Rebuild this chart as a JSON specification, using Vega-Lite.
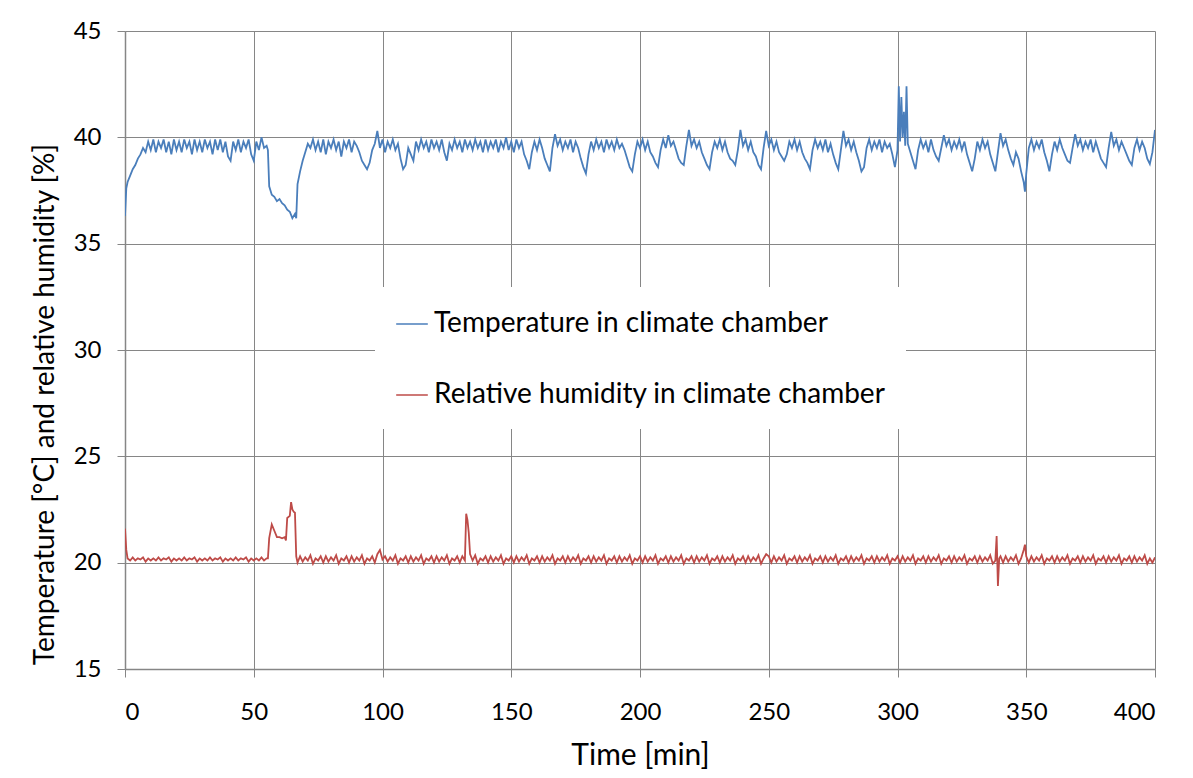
{
  "$schema": "https://vega.github.io/schema/vega-lite/v6.json",
  "width": 1030,
  "height": 638,
  "autosize": {"type": "none"},
  "padding": {"left": 125, "top": 31, "right": 38, "bottom": 109},
  "background": "white",
  "data": {"values": [
{"t":0,"T":36.3,"H":21.6},{"t":0.5,"T":37.6,"H":20.6},{"t":1,"T":37.9,"H":20.2},{"t":2,"T":38.2,"H":20.1},{"t":3,"T":38.5,"H":20.25},{"t":4,"T":38.7,"H":20.1},{"t":5,"T":39.0,"H":20.2},{"t":6,"T":39.2,"H":20.15},{"t":7,"T":39.5,"H":20.25},{"t":8,"T":39.3,"H":20.05},{"t":9,"T":39.8,"H":20.2},
{"t":10,"T":39.4,"H":20.1},{"t":11,"T":39.9,"H":20.2},{"t":12,"T":39.3,"H":20.1},{"t":13,"T":39.8,"H":20.25},{"t":14,"T":39.5,"H":20.1},{"t":15,"T":39.9,"H":20.2},{"t":16,"T":39.3,"H":20.15},{"t":17,"T":39.8,"H":20.25},{"t":18,"T":39.2,"H":20.05},{"t":19,"T":39.9,"H":20.2},
{"t":20,"T":39.4,"H":20.1},{"t":21,"T":39.8,"H":20.2},{"t":22,"T":39.3,"H":20.1},{"t":23,"T":39.9,"H":20.25},{"t":24,"T":39.5,"H":20.1},{"t":25,"T":39.8,"H":20.2},{"t":26,"T":39.2,"H":20.15},{"t":27,"T":39.9,"H":20.25},{"t":28,"T":39.4,"H":20.05},{"t":29,"T":39.8,"H":20.2},
{"t":30,"T":39.3,"H":20.1},{"t":31,"T":39.9,"H":20.2},{"t":32,"T":39.5,"H":20.1},{"t":33,"T":39.8,"H":20.25},{"t":34,"T":39.2,"H":20.1},{"t":35,"T":39.9,"H":20.2},{"t":36,"T":39.4,"H":20.15},{"t":37,"T":39.9,"H":20.25},{"t":38,"T":39.3,"H":20.05},{"t":39,"T":39.8,"H":20.2},
{"t":40,"T":39.1,"H":20.1},{"t":41,"T":38.9,"H":20.2},{"t":42,"T":39.8,"H":20.1},{"t":43,"T":39.4,"H":20.25},{"t":44,"T":39.9,"H":20.1},{"t":45,"T":39.3,"H":20.2},{"t":46,"T":39.8,"H":20.15},{"t":47,"T":39.5,"H":20.25},{"t":48,"T":39.9,"H":20.05},{"t":49,"T":39.2,"H":20.2},
{"t":50,"T":38.9,"H":20.1},{"t":51,"T":39.8,"H":20.2},{"t":52,"T":39.4,"H":20.1},{"t":53,"T":40.0,"H":20.25},{"t":54,"T":39.5,"H":20.1},{"t":55,"T":39.6,"H":20.2},{"t":55.5,"T":39.4,"H":20.2},{"t":56,"T":37.7,"H":21.15},{"t":57,"T":37.3,"H":21.8},{"t":58,"T":37.2,"H":21.5},{"t":59,"T":37.0,"H":21.2},
{"t":60,"T":37.1,"H":21.2},{"t":61,"T":36.9,"H":21.15},{"t":62,"T":36.8,"H":21.2},{"t":62.5,"H":21.05},{"t":63,"T":36.6,"H":22.1},{"t":64,"T":36.5,"H":22.2},{"t":64.5,"H":22.85},{"t":65,"T":36.2,"H":22.5},{"t":65.5,"H":22.4},{"t":66,"T":36.4,"H":22.35},{"t":66.5,"T":36.2,"H":20.3},{"t":67,"T":37.8,"H":20.0},{"t":68,"T":38.4,"H":20.3},{"t":69,"T":38.9,"H":20.05},
{"t":70,"T":39.3,"H":20.25},{"t":71,"T":39.7,"H":20.1},{"t":72,"T":39.5,"H":20.35},{"t":73,"T":39.9,"H":19.95},{"t":74,"T":39.4,"H":20.2},{"t":75,"T":39.8,"H":20.1},{"t":76,"T":39.3,"H":20.3},{"t":77,"T":39.9,"H":20.0},{"t":78,"T":39.2,"H":20.3},{"t":79,"T":39.8,"H":20.05},
{"t":80,"T":39.5,"H":20.25},{"t":81,"T":39.9,"H":20.1},{"t":82,"T":39.4,"H":20.35},{"t":83,"T":39.8,"H":19.95},{"t":84,"T":39.1,"H":20.2},{"t":85,"T":39.8,"H":20.1},{"t":86,"T":39.5,"H":20.3},{"t":87,"T":39.9,"H":20.0},{"t":88,"T":39.3,"H":20.3},{"t":89,"T":39.8,"H":20.05},
{"t":90,"T":39.6,"H":20.25},{"t":91,"T":39.3,"H":20.1},{"t":92,"T":38.9,"H":20.35},{"t":93,"T":38.7,"H":19.95},{"t":94,"T":38.5,"H":20.2},{"t":95,"T":38.8,"H":20.1},{"t":96,"T":39.4,"H":20.3},{"t":97,"T":39.7,"H":20.0},{"t":98,"T":40.3,"H":20.4},{"t":99,"T":39.5,"H":20.6},
{"t":100,"T":39.9,"H":20.15},{"t":101,"T":39.3,"H":20.3},{"t":102,"T":39.8,"H":20.05},{"t":103,"T":39.5,"H":20.25},{"t":104,"T":39.9,"H":20.1},{"t":105,"T":39.4,"H":20.35},{"t":106,"T":39.7,"H":19.95},{"t":107,"T":39.0,"H":20.2},{"t":108,"T":38.5,"H":20.1},{"t":109,"T":38.7,"H":20.3},
{"t":110,"T":39.5,"H":20.0},{"t":111,"T":39.2,"H":20.3},{"t":112,"T":38.9,"H":20.05},{"t":113,"T":39.8,"H":20.25},{"t":114,"T":39.4,"H":20.1},{"t":115,"T":39.9,"H":20.35},{"t":116,"T":39.5,"H":19.95},{"t":117,"T":39.8,"H":20.2},{"t":118,"T":39.3,"H":20.1},{"t":119,"T":39.9,"H":20.3},
{"t":120,"T":39.5,"H":20.0},{"t":121,"T":39.8,"H":20.3},{"t":122,"T":39.4,"H":20.05},{"t":123,"T":39.9,"H":20.25},{"t":124,"T":39.3,"H":20.1},{"t":125,"T":38.9,"H":20.35},{"t":126,"T":39.7,"H":19.95},{"t":127,"T":39.4,"H":20.2},{"t":128,"T":39.9,"H":20.1},{"t":129,"T":39.5,"H":20.3},
{"t":130,"T":39.8,"H":20.0},{"t":131,"T":39.3,"H":20.3},{"t":132,"T":39.9,"H":20.1},{"t":132.5,"H":22.3},{"t":133,"T":39.5,"H":22.0},{"t":133.5,"H":21.4},{"t":134,"T":39.8,"H":20.4},{"t":135,"T":39.4,"H":20.1},{"t":136,"T":39.9,"H":20.35},{"t":137,"T":39.5,"H":19.95},{"t":138,"T":39.8,"H":20.2},{"t":139,"T":39.3,"H":20.1},
{"t":140,"T":39.9,"H":20.3},{"t":141,"T":39.4,"H":20.0},{"t":142,"T":39.8,"H":20.3},{"t":143,"T":39.5,"H":20.05},{"t":144,"T":39.9,"H":20.25},{"t":145,"T":39.3,"H":20.1},{"t":146,"T":39.8,"H":20.35},{"t":147,"T":39.5,"H":19.95},{"t":148,"T":40.0,"H":20.2},{"t":149,"T":39.4,"H":20.1},
{"t":150,"T":39.8,"H":20.3},{"t":151,"T":39.3,"H":20.0},{"t":152,"T":39.9,"H":20.3},{"t":153,"T":39.5,"H":20.05},{"t":154,"T":39.8,"H":20.25},{"t":155,"T":39.2,"H":20.1},{"t":156,"T":38.9,"H":20.35},{"t":157,"T":38.5,"H":19.95},{"t":158,"T":39.3,"H":20.2},{"t":159,"T":39.8,"H":20.1},
{"t":160,"T":39.4,"H":20.3},{"t":161,"T":39.9,"H":20.0},{"t":162,"T":39.5,"H":20.3},{"t":163,"T":39.0,"H":20.05},{"t":164,"T":38.7,"H":20.25},{"t":165,"T":38.4,"H":20.1},{"t":166,"T":39.5,"H":20.35},{"t":167,"T":40.15,"H":19.95},{"t":168,"T":39.6,"H":20.2},{"t":169,"T":39.9,"H":20.1},
{"t":170,"T":39.4,"H":20.3},{"t":171,"T":39.8,"H":20.0},{"t":172,"T":39.5,"H":20.3},{"t":173,"T":39.9,"H":20.05},{"t":174,"T":39.3,"H":20.25},{"t":175,"T":39.8,"H":20.1},{"t":176,"T":39.5,"H":20.35},{"t":177,"T":39.0,"H":19.95},{"t":178,"T":38.6,"H":20.2},{"t":179,"T":38.3,"H":20.1},
{"t":180,"T":39.2,"H":20.3},{"t":181,"T":39.8,"H":20.0},{"t":182,"T":39.4,"H":20.3},{"t":183,"T":39.9,"H":20.05},{"t":184,"T":39.5,"H":20.25},{"t":185,"T":39.8,"H":20.1},{"t":186,"T":39.3,"H":20.35},{"t":187,"T":39.9,"H":19.95},{"t":188,"T":39.5,"H":20.2},{"t":189,"T":39.8,"H":20.1},
{"t":190,"T":39.4,"H":20.3},{"t":191,"T":39.9,"H":20.0},{"t":192,"T":39.5,"H":20.3},{"t":193,"T":39.7,"H":20.05},{"t":194,"T":39.4,"H":20.25},{"t":195,"T":39.0,"H":20.1},{"t":196,"T":38.6,"H":20.35},{"t":197,"T":38.4,"H":19.95},{"t":198,"T":39.2,"H":20.2},{"t":199,"T":39.8,"H":20.1},
{"t":200,"T":39.5,"H":20.3},{"t":201,"T":39.9,"H":20.0},{"t":202,"T":39.4,"H":20.3},{"t":203,"T":39.8,"H":20.05},{"t":204,"T":39.3,"H":20.25},{"t":205,"T":39.1,"H":20.1},{"t":206,"T":38.8,"H":20.35},{"t":207,"T":38.6,"H":19.95},{"t":208,"T":39.4,"H":20.2},{"t":209,"T":39.9,"H":20.1},
{"t":210,"T":39.5,"H":20.3},{"t":211,"T":40.1,"H":20.0},{"t":212,"T":39.6,"H":20.3},{"t":213,"T":39.8,"H":20.05},{"t":214,"T":39.4,"H":20.25},{"t":215,"T":39.0,"H":20.1},{"t":216,"T":38.8,"H":20.35},{"t":217,"T":38.7,"H":19.95},{"t":218,"T":39.6,"H":20.2},{"t":219,"T":40.35,"H":20.1},
{"t":220,"T":39.6,"H":20.3},{"t":221,"T":39.9,"H":20.0},{"t":222,"T":39.5,"H":20.3},{"t":223,"T":39.8,"H":20.05},{"t":224,"T":39.3,"H":20.25},{"t":225,"T":39.0,"H":20.1},{"t":226,"T":38.7,"H":20.35},{"t":227,"T":38.5,"H":19.95},{"t":228,"T":39.3,"H":20.2},{"t":229,"T":39.8,"H":20.1},
{"t":230,"T":39.5,"H":20.3},{"t":231,"T":39.9,"H":20.0},{"t":232,"T":39.4,"H":20.3},{"t":233,"T":39.8,"H":20.05},{"t":234,"T":39.3,"H":20.25},{"t":235,"T":39.0,"H":20.1},{"t":236,"T":38.9,"H":20.35},{"t":237,"T":38.7,"H":19.95},{"t":238,"T":39.4,"H":20.2},{"t":239,"T":40.35,"H":20.1},
{"t":240,"T":39.6,"H":20.3},{"t":241,"T":39.9,"H":20.0},{"t":242,"T":39.4,"H":20.3},{"t":243,"T":39.8,"H":20.05},{"t":244,"T":39.3,"H":20.25},{"t":245,"T":39.1,"H":20.1},{"t":246,"T":38.7,"H":20.35},{"t":247,"T":38.5,"H":19.95},{"t":248,"T":39.5,"H":20.2},{"t":249,"T":40.3,"H":20.4},
{"t":250,"T":39.6,"H":20.3},{"t":251,"T":39.9,"H":20.0},{"t":252,"T":39.4,"H":20.3},{"t":253,"T":39.8,"H":20.05},{"t":254,"T":39.3,"H":20.25},{"t":255,"T":39.1,"H":20.1},{"t":256,"T":38.9,"H":20.35},{"t":257,"T":39.2,"H":19.95},{"t":258,"T":39.8,"H":20.2},{"t":259,"T":39.5,"H":20.1},
{"t":260,"T":39.9,"H":20.3},{"t":261,"T":39.4,"H":20.0},{"t":262,"T":39.8,"H":20.3},{"t":263,"T":39.3,"H":20.05},{"t":264,"T":39.0,"H":20.25},{"t":265,"T":38.8,"H":20.1},{"t":266,"T":38.5,"H":20.35},{"t":267,"T":39.4,"H":19.95},{"t":268,"T":39.9,"H":20.2},{"t":269,"T":39.5,"H":20.1},
{"t":270,"T":39.8,"H":20.3},{"t":271,"T":39.4,"H":20.0},{"t":272,"T":39.9,"H":20.3},{"t":273,"T":39.3,"H":20.05},{"t":274,"T":39.7,"H":20.25},{"t":275,"T":39.2,"H":20.1},{"t":276,"T":38.8,"H":20.35},{"t":277,"T":38.5,"H":19.95},{"t":278,"T":39.4,"H":20.2},{"t":279,"T":40.3,"H":20.1},
{"t":280,"T":39.6,"H":20.3},{"t":281,"T":39.9,"H":20.0},{"t":282,"T":39.4,"H":20.3},{"t":283,"T":39.8,"H":20.05},{"t":284,"T":39.3,"H":20.25},{"t":285,"T":38.9,"H":20.1},{"t":286,"T":38.4,"H":20.35},{"t":287,"T":38.6,"H":19.95},{"t":288,"T":39.5,"H":20.2},{"t":289,"T":39.9,"H":20.1},
{"t":290,"T":39.4,"H":20.3},{"t":291,"T":39.8,"H":20.0},{"t":292,"T":39.5,"H":20.3},{"t":293,"T":39.9,"H":20.05},{"t":294,"T":39.3,"H":20.25},{"t":295,"T":39.8,"H":20.1},{"t":296,"T":39.5,"H":20.35},{"t":297,"T":39.7,"H":19.95},{"t":298,"T":39.2,"H":20.2},{"t":299,"T":38.6,"H":20.1},
{"t":300,"T":39.4,"H":20.3},{"t":300.5,"T":42.4},{"t":301,"T":39.8,"H":20.0},{"t":301.5,"T":41.9},{"t":302,"T":40.0,"H":20.3},{"t":302.5,"T":41.2},{"t":303,"T":39.6,"H":20.05},{"t":303.5,"T":42.4},{"t":304,"T":39.7,"H":20.25},{"t":305,"T":39.3,"H":20.1},{"t":306,"T":38.9,"H":20.35},{"t":307,"T":38.5,"H":19.95},{"t":308,"T":39.4,"H":20.2},{"t":309,"T":39.9,"H":20.1},
{"t":310,"T":39.5,"H":20.3},{"t":311,"T":39.8,"H":20.0},{"t":312,"T":39.3,"H":20.3},{"t":313,"T":39.9,"H":20.05},{"t":314,"T":39.4,"H":20.25},{"t":315,"T":39.1,"H":20.1},{"t":316,"T":38.9,"H":20.35},{"t":317,"T":39.5,"H":19.95},{"t":318,"T":40.1,"H":20.2},{"t":319,"T":39.6,"H":20.1},
{"t":320,"T":39.9,"H":20.3},{"t":321,"T":39.4,"H":20.0},{"t":322,"T":39.8,"H":20.3},{"t":323,"T":39.5,"H":20.05},{"t":324,"T":39.9,"H":20.25},{"t":325,"T":39.4,"H":20.1},{"t":326,"T":39.8,"H":20.35},{"t":327,"T":39.2,"H":19.95},{"t":328,"T":38.8,"H":20.2},{"t":329,"T":38.4,"H":20.1},
{"t":330,"T":39.0,"H":20.3},{"t":331,"T":39.8,"H":20.0},{"t":332,"T":39.4,"H":20.3},{"t":333,"T":39.9,"H":20.05},{"t":334,"T":39.5,"H":20.25},{"t":335,"T":39.8,"H":20.1},{"t":336,"T":39.2,"H":20.35},{"t":337,"T":38.8,"H":19.95},{"t":338,"T":38.4,"H":20.1},{"t":338.5,"H":21.25},{"t":339,"T":39.3,"H":18.9},{"t":339.5,"H":20.2},
{"t":340,"T":40.2,"H":20.3},{"t":341,"T":39.6,"H":20.0},{"t":342,"T":39.9,"H":20.3},{"t":343,"T":39.4,"H":20.05},{"t":344,"T":39.0,"H":20.25},{"t":345,"T":38.7,"H":20.1},{"t":346,"T":39.3,"H":20.35},{"t":347,"T":39.0,"H":19.95},{"t":348,"T":38.4,"H":20.2},{"t":349,"T":37.9,"H":20.6},{"t":349.5,"T":37.45,"H":20.85},
{"t":350,"T":38.3,"H":20.3},{"t":351,"T":39.5,"H":20.0},{"t":352,"T":39.9,"H":20.3},{"t":353,"T":39.4,"H":20.05},{"t":354,"T":39.8,"H":20.25},{"t":355,"T":39.5,"H":20.1},{"t":356,"T":39.9,"H":20.35},{"t":357,"T":39.3,"H":19.95},{"t":358,"T":38.9,"H":20.2},{"t":359,"T":38.4,"H":20.1},
{"t":360,"T":39.2,"H":20.3},{"t":361,"T":39.8,"H":20.0},{"t":362,"T":39.4,"H":20.3},{"t":363,"T":39.9,"H":20.05},{"t":364,"T":39.5,"H":20.25},{"t":365,"T":39.2,"H":20.1},{"t":366,"T":38.9,"H":20.35},{"t":367,"T":38.8,"H":19.95},{"t":368,"T":39.5,"H":20.2},{"t":369,"T":40.15,"H":20.1},
{"t":370,"T":39.6,"H":20.3},{"t":371,"T":39.9,"H":20.0},{"t":372,"T":39.4,"H":20.3},{"t":373,"T":39.8,"H":20.05},{"t":374,"T":39.5,"H":20.25},{"t":375,"T":39.9,"H":20.1},{"t":376,"T":39.3,"H":20.35},{"t":377,"T":39.8,"H":19.95},{"t":378,"T":39.4,"H":20.2},{"t":379,"T":39.0,"H":20.1},
{"t":380,"T":38.8,"H":20.3},{"t":381,"T":38.6,"H":20.0},{"t":382,"T":39.5,"H":20.3},{"t":383,"T":40.25,"H":20.05},{"t":384,"T":39.6,"H":20.25},{"t":385,"T":39.9,"H":20.1},{"t":386,"T":39.4,"H":20.35},{"t":387,"T":39.8,"H":19.95},{"t":388,"T":39.5,"H":20.2},{"t":389,"T":39.2,"H":20.1},
{"t":390,"T":38.9,"H":20.3},{"t":391,"T":38.7,"H":20.0},{"t":392,"T":39.5,"H":20.3},{"t":393,"T":39.9,"H":20.05},{"t":394,"T":39.4,"H":20.25},{"t":395,"T":39.8,"H":20.1},{"t":396,"T":39.5,"H":20.35},{"t":397,"T":39.0,"H":19.95},{"t":398,"T":38.75,"H":20.2},{"t":399,"T":39.3,"H":20.0},
{"t":400,"T":40.35,"H":20.25}
  ]},
  "transform": [
    {"fold": ["T", "H"], "as": ["series", "value"]},
    {"filter": "isValid(datum.value)"}
  ],
  "mark": {"type": "line", "strokeWidth": 1.8, "clip": true},
  "encoding": {
    "x": {
      "field": "t", "type": "quantitative",
      "scale": {"domain": [0, 400], "nice": false, "zero": false},
      "axis": {"values": [0, 50, 100, 150, 200, 250, 300, 350, 400], "title": "Time [min]", "titleY": 86, "titleBaseline": "middle", "titleFontSize": 30, "labelPadding": 23}
    },
    "y": {
      "field": "value", "type": "quantitative",
      "scale": {"domain": [15, 45], "nice": false, "zero": false},
      "axis": {"values": [15, 20, 25, 30, 35, 40, 45], "title": "Temperature [°C] and relative humidity [%]", "titleX": -80, "titleY": 373, "titleBaseline": "middle", "titleAlign": "center", "titleFontSize": 28, "labelPadding": 16}
    },
    "color": {
      "field": "series", "type": "nominal",
      "scale": {"domain": ["T", "H"], "range": ["#4A7EBB", "#BE4B48"]},
      "legend": {
        "title": null,
        "orient": "none",
        "legendX": 250,
        "legendY": 256,
        "fillColor": "white",
        "padding": 20,
        "symbolType": "stroke",
        "symbolSize": 1000,
        "symbolStrokeWidth": 1.5,
        "labelFont": "Lato",
        "labelFontSize": 28,
        "labelColor": "black",
        "labelOffset": 5,
        "rowPadding": 40,
        "labelLimit": 700,
        "labelExpr": "datum.label == 'T' ? 'Temperature in climate chamber' : 'Relative humidity in climate chamber'"
      }
    }
  },
  "config": {
    "view": {"stroke": null},
    "axis": {
      "grid": true,
      "gridColor": "#868686",
      "gridWidth": 1,
      "gridOpacity": 1,
      "domainColor": "#868686",
      "domainWidth": 1.5,
      "tickColor": "#868686",
      "tickSize": 8,
      "tickWidth": 1,
      "labelFont": "Lato",
      "labelFontSize": 24,
      "labelColor": "black",
      "titleFont": "Lato",
      "titleFontSize": 29,
      "titleFontWeight": "normal",
      "titleColor": "black"
    }
  }
}
